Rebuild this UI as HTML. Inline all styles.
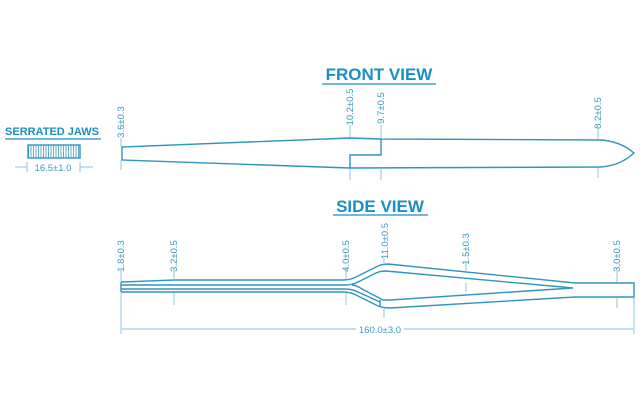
<!DOCTYPE html>
<html><head><style>html,body{margin:0;padding:0;background:#fff}svg{display:block}</style></head>
<body>
<svg width="640" height="400" viewBox="0 0 640 400" xmlns="http://www.w3.org/2000/svg" font-family="Liberation Sans, sans-serif">
<defs>
<pattern id="h" width="2.5" height="10" patternUnits="userSpaceOnUse"><line x1="1" y1="0" x2="1" y2="10" stroke="#3a9cc0" stroke-width="0.8"/></pattern>
</defs>
<g fill="#1a8fc4" font-weight="bold">
<text x="379" y="80" font-size="17" text-anchor="middle">FRONT VIEW</text>
<text x="380" y="212" font-size="17" text-anchor="middle">SIDE VIEW</text>
<text x="52" y="135" font-size="11" text-anchor="middle">SERRATED JAWS</text>
</g>
<g stroke="#1a8fc4" stroke-width="1.3">
<line x1="322" y1="84" x2="436" y2="84"/>
<line x1="333" y1="215" x2="428" y2="215"/>
<line x1="5" y1="139" x2="101" y2="139"/>
</g>
<g fill="none" stroke="#2f95bd" stroke-width="1.4">
<rect x="28" y="145" width="52" height="13" fill="url(#h)"/>
<path d="M122 147 L122 160 L350 168 L600 167 Q620 166 634 153 Q620 141 600 140 L381 139 L350 138 Z"/>
<path d="M350 168 L350 155 L381 155 L381 139"/>
<path d="M121 282 L121 292"/>
<path d="M121 282 L175 280 L343 280 Q350 280 356 277 L378 266 Q382 264 388 264 L575 283 L634 283 L634 297 L575 297 L390 308 Q383 308 378 306 L356 295 Q350 292 343 292 L175 292 L121 292"/>
<path d="M121 285 L345 285 Q352 285 358 282 L376 273 Q380 271 386 271 L573 288 L390 300 L383 300 L362 289 Q356 285 352 285"/>
<path d="M121 289 L345 289 Q352 289 358 292 L380 302"/>
<line x1="380" y1="300" x2="380" y2="306"/>
</g>
<g stroke="#7cc0dc" stroke-width="0.9" fill="none">
<line x1="121" y1="138" x2="121" y2="147"/><line x1="121" y1="160" x2="121" y2="170"/>
<line x1="350" y1="125" x2="350" y2="137"/><line x1="350" y1="169" x2="350" y2="180"/>
<line x1="381" y1="125" x2="381" y2="138"/><line x1="381" y1="169" x2="381" y2="180"/>
<line x1="598" y1="128" x2="598" y2="139"/><line x1="598" y1="168" x2="598" y2="178"/>
<line x1="15" y1="167" x2="27" y2="167"/><line x1="80" y1="167" x2="93" y2="167"/>
<line x1="27" y1="162" x2="27" y2="172"/><line x1="80" y1="162" x2="80" y2="172"/>
<line x1="121" y1="270" x2="121" y2="281"/><line x1="121" y1="293" x2="121" y2="334"/>
<line x1="174" y1="268" x2="174" y2="279"/><line x1="174" y1="293" x2="174" y2="305"/>
<line x1="346" y1="268" x2="346" y2="279"/><line x1="346" y1="293" x2="346" y2="305"/>
<line x1="384" y1="258" x2="384" y2="263"/><line x1="384" y1="309" x2="384" y2="318"/>
<line x1="466" y1="262" x2="466" y2="272"/><line x1="466" y1="283" x2="466" y2="292"/>
<line x1="617" y1="270" x2="617" y2="282"/><line x1="617" y1="298" x2="617" y2="308"/>
<line x1="634" y1="298" x2="634" y2="334"/>
<line x1="122" y1="329" x2="356" y2="329"/><line x1="404" y1="329" x2="633" y2="329"/>
</g>
<g fill="#3a9cc0" font-size="9.5">
<text transform="translate(124,122) rotate(-90)" text-anchor="middle">3.6±0.3</text>
<text transform="translate(353,107) rotate(-90)" text-anchor="middle">10.2±0.5</text>
<text transform="translate(384,108) rotate(-90)" text-anchor="middle">9.7±0.5</text>
<text transform="translate(601,113) rotate(-90)" text-anchor="middle">8.2±0.5</text>
<text x="53" y="171" text-anchor="middle">16.5±1.0</text>
<text transform="translate(124,256) rotate(-90)" text-anchor="middle">1.8±0.3</text>
<text transform="translate(177,256) rotate(-90)" text-anchor="middle">3.2±0.5</text>
<text transform="translate(349,256) rotate(-90)" text-anchor="middle">4.0±0.5</text>
<text transform="translate(388,241) rotate(-90)" text-anchor="middle">11.0±0.5</text>
<text transform="translate(469,249) rotate(-90)" text-anchor="middle">1.5±0.3</text>
<text transform="translate(620,256) rotate(-90)" text-anchor="middle">3.0±0.5</text>
<text x="380" y="333" text-anchor="middle">160.0±3.0</text>
</g>
</svg>
</body></html>
